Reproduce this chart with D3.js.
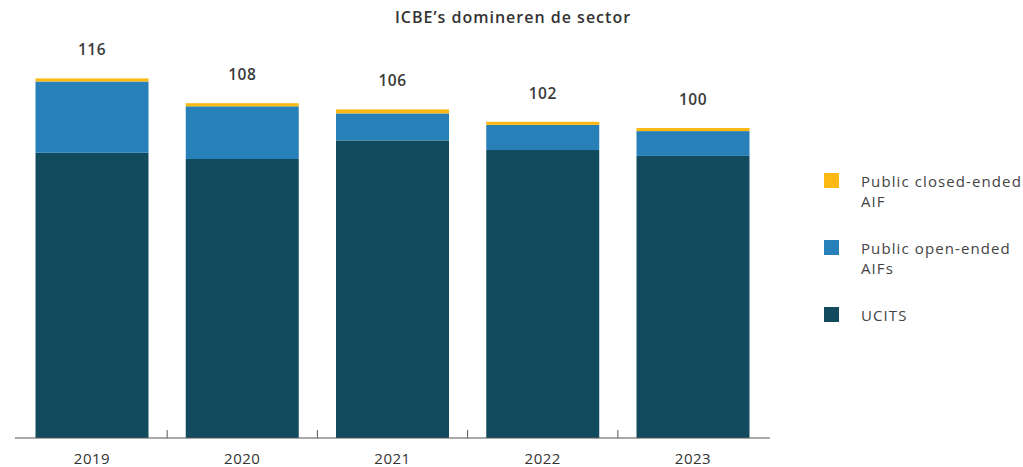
<!DOCTYPE html>
<html>
<head>
<meta charset="utf-8">
<script src="https://cdn.jsdelivr.net/npm/d3@7"></script>
<style>
  html, body { margin: 0; padding: 0; background: #fff; }
  svg { display: block; }
  text { font-family: "Open Sans", "Lato", sans-serif; }
</style>
</head>
<body>
<svg id="chart" width="1023" height="467"></svg>
<script>
// Years on the x axis
const years = ["2019", "2020", "2021", "2022", "2023"];
// Number of funds per category, stacked bottom to top
const ucits = [92, 90, 96, 92.9, 91];
const openEndedAIFs = [23, 17, 8.7, 8.1, 8];
const closedEndedAIF = [1, 1, 1.3, 1, 1];

const seriesNames = ["UCITS", "Public open-ended AIFs", "Public closed-ended AIF"];
const legendLabels = [["Public closed-ended", "AIF"], ["Public open-ended", "AIFs"], ["UCITS"]];
const colors = ["#124a5e", "#2880b9", "#fdb913"];

const rows = years.map((y, i) => ({
  year: y,
  "UCITS": ucits[i],
  "Public open-ended AIFs": openEndedAIFs[i],
  "Public closed-ended AIF": closedEndedAIF[i]
}));

const svg = d3.select("#chart");

const x = d3.scaleBand()
  .domain(years)
  .range([15, 770])
  .paddingInner(0.248)
  .paddingOuter(0.1365);

const y = d3.scaleLinear()
  .domain([0, 130])
  .range([438, 438 - 130 * 3.1]);

const color = d3.scaleOrdinal().domain(seriesNames).range(colors);

const stacked = d3.stack().keys(seriesNames)(rows);

// Stacked bars
svg.append("g")
  .selectAll("g")
  .data(stacked)
  .join("g")
  .attr("fill", d => color(d.key))
  .selectAll("rect")
  .data(d => d)
  .join("rect")
  .attr("x", d => x(d.data.year))
  .attr("width", x.bandwidth())
  .attr("y", d => y(d[1]))
  .attr("height", d => y(d[0]) - y(d[1]));

// Totals above each bar
svg.append("g")
  .selectAll("text")
  .data(rows)
  .join("text")
  .attr("x", d => x(d.year) + x.bandwidth() / 2)
  .attr("y", d => y(d3.sum(seriesNames, k => d[k])) - 23)
  .attr("text-anchor", "middle")
  .attr("font-size", 15.5)
  .attr("font-weight", 600)
  .attr("letter-spacing", 0.5)
  .attr("fill", "#3a3a3a")
  .text(d => Math.round(d3.sum(seriesNames, k => d[k])));

// X axis: baseline with ticks between categories
const axis = svg.append("g").attr("transform", `translate(0,${y(0)})`);
axis.append("line")
  .attr("x1", x.range()[0]).attr("x2", x.range()[1])
  .attr("stroke", "#555").attr("stroke-width", 1.2);
const gap = x.step() * x.paddingInner();
axis.selectAll("line.tick")
  .data(years.slice(1))
  .join("line")
  .attr("class", "tick")
  .attr("x1", d => x(d) - gap / 2).attr("x2", d => x(d) - gap / 2)
  .attr("y1", 0).attr("y2", -8)
  .attr("stroke", "#555").attr("stroke-width", 1);
axis.selectAll("text")
  .data(years)
  .join("text")
  .attr("x", d => x(d) + x.bandwidth() / 2)
  .attr("y", 26)
  .attr("text-anchor", "middle")
  .attr("font-size", 15)
  .attr("letter-spacing", 0.5)
  .attr("fill", "#333")
  .text(d => d);

// Title
svg.append("text")
  .attr("x", 513)
  .attr("y", 23)
  .attr("text-anchor", "middle")
  .attr("font-size", 16)
  .attr("font-weight", 600)
  .attr("letter-spacing", 1)
  .attr("fill", "#333")
  .text("ICBE\u2019s domineren de sector");

// Legend
const legendOrder = ["Public closed-ended AIF", "Public open-ended AIFs", "UCITS"];
const legendY = [173, 240, 307];
const legend = svg.append("g");
legendOrder.forEach((name, i) => {
  const g = legend.append("g").attr("transform", `translate(824,${legendY[i]})`);
  g.append("rect").attr("width", 15).attr("height", 15).attr("fill", color(name));
  const t = g.append("text")
    .attr("x", 37).attr("y", 14)
    .attr("font-size", 15)
    .attr("letter-spacing", 1.1)
    .attr("fill", "#444");
  legendLabels[i].forEach((line, j) => {
    t.append("tspan").attr("x", 37).attr("dy", j === 0 ? 0 : 20).text(line);
  });
});
</script>
</body>
</html>
